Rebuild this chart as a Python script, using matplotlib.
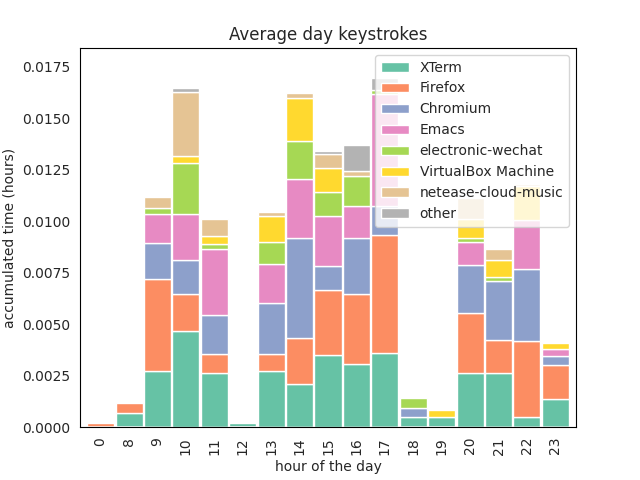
import matplotlib
matplotlib.use("Agg")
import matplotlib.pyplot as plt
import seaborn as sns
import pandas as pd

hours = ["0", "8", "9", "10", "11", "12", "13", "14", "15", "16", "17", "18", "19", "20", "21", "22", "23"]
xterm = [0, 0.0007, 0.00272, 0.00466, 0.00262, 0.0002, 0.00272, 0.00211, 0.0035, 0.00306, 0.00359, 0.0005, 0.0005, 0.00262, 0.00262, 0.0005, 0.00137]
firefox = [0.0002, 0.00047, 0.00445, 0.00178, 0.00092, 0, 0.00082, 0.00221, 0.00314, 0.00338, 0.00575, 0, 0, 0.00291, 0.00162, 0.00366, 0.00166]
chromium = [0, 0, 0.00179, 0.00166, 0.00189, 0, 0.00247, 0.00488, 0.00116, 0.00276, 0.00141, 0.00042, 0, 0.00236, 0.00286, 0.00354, 0.00042]
emacs = [0, 0, 0.00138, 0.00223, 0.00324, 0, 0.00193, 0.00285, 0.00246, 0.00155, 0.00541, 0, 0, 0.0011, 0, 0.00237, 0.00033]
wechat = [0, 0, 0.00031, 0.00248, 0.00024, 0, 0.00106, 0.00184, 0.00116, 0.00145, 0.00019, 0.00051, 0, 0.00021, 0.00021, 0, 0]
vbox = [0, 0, 0, 0.00034, 0.00035, 0, 0.00123, 0.00208, 0.00116, 0, 0, 0, 0.00032, 0.00092, 0.00082, 0.00163, 0.00029]
netease = [0, 0, 0.00052, 0.00311, 0.00086, 0, 0.00023, 0.00024, 0.00068, 0.00024, 0, 0, 0, 0.00101, 0.00054, 0.0001, 0]
other = [0, 0, 0, 0.00019, 0, 0, 0, 0, 0.00013, 0.00124, 0.00061, 0, 0, 0, 0, 0, 0]

df = pd.DataFrame({
    "XTerm": xterm, "Firefox": firefox, "Chromium": chromium, "Emacs": emacs,
    "electronic-wechat": wechat, "VirtualBox Machine": vbox,
    "netease-cloud-music": netease, "other": other,
}, index=hours)

sns.set_style("white")
fig, ax = plt.subplots(figsize=(6.4, 4.8), dpi=100)
df.plot.bar(stacked=True, ax=ax, width=0.95, color=sns.color_palette("Set2", 8),
            edgecolor="white", linewidth=1)
ax.set_ylim(0, 0.0184)
ax.set_title("Average day keystrokes")
ax.set_xlabel("hour of the day")
ax.set_ylabel("accumulated time (hours)")
for s in ax.spines.values():
    s.set_color("black")
ax.legend(loc="upper right", framealpha=0.8)
fig.subplots_adjust(top=0.9)
plt.savefig("out.png")
